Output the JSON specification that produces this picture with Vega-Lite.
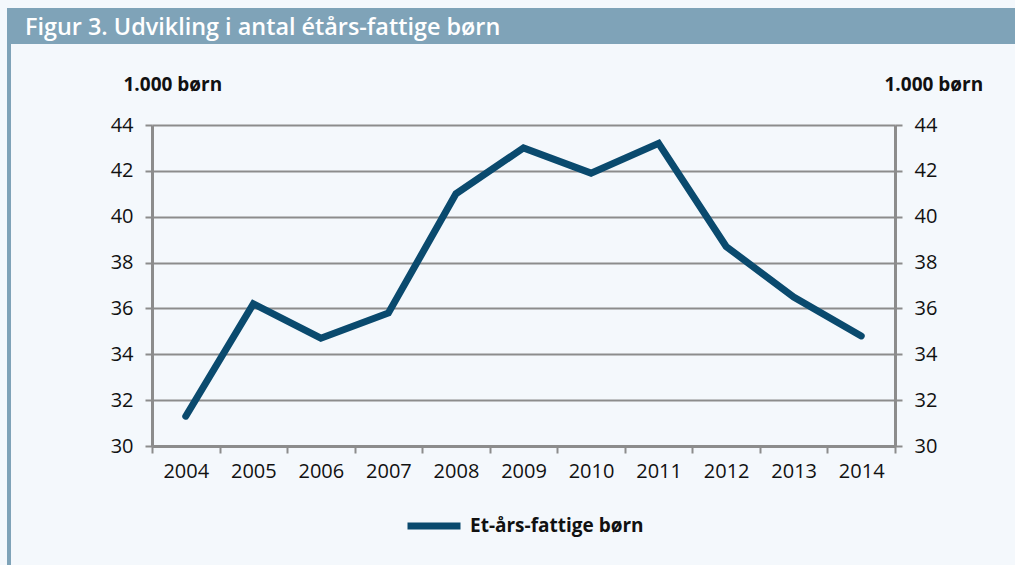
{
  "$schema": "https://vega.github.io/schema/vega-lite/v6.json",
  "background": "#f4f8fc",
  "padding": {"left": 7, "top": 8, "right": 0, "bottom": 0},
  "config": {
    "view": {"stroke": null},
    "font": "Open Sans",
    "legend": {"layout": {"bottom": {"anchor": "middle"}}}
  },
  "spacing": 0,
  "resolve": {"scale": {"color": "independent"}},
  "hconcat": [
    {
      "width": 4,
      "height": 557,
      "view": {"fill": "#7fa3b8", "stroke": null},
      "data": {"values": [{"t": 0}]},
      "mark": {"type": "rect", "fill": "#7fa3b8"},
      "encoding": {}
    },
    {
      "spacing": 31,
      "resolve": {"scale": {"color": "independent"}},
      "vconcat": [
        {
          "width": 1004,
          "height": 36,
          "view": {"fill": "#7fa3b8", "stroke": null},
          "title": {
            "text": "Figur 3. Udvikling i antal étårs-fattige børn",
            "anchor": "start",
            "orient": "top",
            "offset": -50,
            "baseline": "alphabetic",
            "dx": 14,
            "color": "#ffffff",
            "font": "Open Sans",
            "fontSize": 23.4,
            "fontWeight": 600
          },
          "data": {"values": [{"t": 0}]},
          "mark": {"type": "rect", "fill": "#7fa3b8"},
          "encoding": {}
        },
        {
          "spacing": 98,
          "resolve": {"scale": {"color": "independent"}},
          "hconcat": [
            {
              "width": 1,
              "height": 1,
              "data": {"values": []},
              "mark": {"type": "point", "opacity": 0},
              "encoding": {}
            },
            {
              "width": 743,
              "height": 321,
              "data": {
                "values": [
                  {"year": "2004", "value": 31.3, "serie": "Et-års-fattige børn"},
                  {"year": "2005", "value": 36.2, "serie": "Et-års-fattige børn"},
                  {"year": "2006", "value": 34.7, "serie": "Et-års-fattige børn"},
                  {"year": "2007", "value": 35.8, "serie": "Et-års-fattige børn"},
                  {"year": "2008", "value": 41.0, "serie": "Et-års-fattige børn"},
                  {"year": "2009", "value": 43.0, "serie": "Et-års-fattige børn"},
                  {"year": "2010", "value": 41.9, "serie": "Et-års-fattige børn"},
                  {"year": "2011", "value": 43.2, "serie": "Et-års-fattige børn"},
                  {"year": "2012", "value": 38.7, "serie": "Et-års-fattige børn"},
                  {"year": "2013", "value": 36.5, "serie": "Et-års-fattige børn"},
                  {"year": "2014", "value": 34.8, "serie": "Et-års-fattige børn"}
                ]
              },
              "layer": [
                {
                  "mark": {"type": "line", "strokeWidth": 7, "strokeCap": "round", "strokeJoin": "miter"},
                  "encoding": {
                    "x": {
                      "field": "year", "type": "ordinal", "bandPosition": 0.5,
                      "scale": {"type": "band", "paddingInner": 0, "paddingOuter": 0},
                      "axis": {
                        "title": null, "labelAngle": 0, "tickBand": "extent",
                        "tickSize": 7, "tickWidth": 2, "tickColor": "#8c8c8c",
                        "domainColor": "#8c8c8c", "domainWidth": 3,
                        "labelFont": "Open Sans", "labelFontSize": 20, "labelColor": "#111111",
                        "labelPadding": 8, "grid": false
                      }
                    },
                    "y": {
                      "field": "value", "type": "quantitative",
                      "scale": {"domain": [30, 44], "nice": false, "zero": false},
                      "axis": {
                        "orient": "left",
                        "title": "1.000 børn", "titleAngle": 0, "titleAlign": "left",
                        "titleBaseline": "alphabetic", "titleX": -29, "titleY": -35,
                        "titleFont": "Open Sans", "titleFontSize": 19, "titleFontWeight": "bold", "titleColor": "#111111",
                        "values": [30, 32, 34, 36, 38, 40, 42, 44],
                        "grid": true, "gridColor": "#8c8c8c", "gridWidth": 2,
                        "tickSize": 7, "tickWidth": 2, "tickColor": "#8c8c8c",
                        "domainColor": "#8c8c8c", "domainWidth": 3,
                        "labelFont": "Open Sans", "labelFontSize": 20, "labelColor": "#111111",
                        "labelPadding": 12
                      }
                    },
                    "color": {
                      "field": "serie", "type": "nominal",
                      "scale": {"range": ["#0a4a6e"]},
                      "legend": {
                        "title": null, "orient": "bottom", "direction": "horizontal",
                        "symbolType": "stroke", "symbolSize": 2809, "symbolStrokeWidth": 7,
                        "labelFont": "Open Sans", "labelFontSize": 19, "labelFontWeight": "bold",
                        "labelColor": "#111111", "labelOffset": 6, "labelLimit": 400, "offset": 15
                      }
                    }
                  }
                },
                {
                  "mark": {"type": "line", "opacity": 0},
                  "encoding": {
                    "x": {"field": "year", "type": "ordinal", "bandPosition": 0.5},
                    "y": {
                      "field": "value", "type": "quantitative",
                      "scale": {"domain": [30, 44], "nice": false, "zero": false},
                      "axis": {
                        "orient": "right",
                        "title": "1.000 børn", "titleAngle": 0, "titleAlign": "left",
                        "titleBaseline": "alphabetic", "titleX": -11, "titleY": -35,
                        "titleFont": "Open Sans", "titleFontSize": 19, "titleFontWeight": "bold", "titleColor": "#111111",
                        "values": [30, 32, 34, 36, 38, 40, 42, 44],
                        "grid": false,
                        "tickSize": 7, "tickWidth": 2, "tickColor": "#8c8c8c",
                        "domainColor": "#8c8c8c", "domainWidth": 3,
                        "labelFont": "Open Sans", "labelFontSize": 20, "labelColor": "#111111",
                        "labelPadding": 12
                      }
                    }
                  }
                }
              ],
              "resolve": {"scale": {"y": "independent"}}
            }
          ]
        }
      ]
    }
  ]
}
